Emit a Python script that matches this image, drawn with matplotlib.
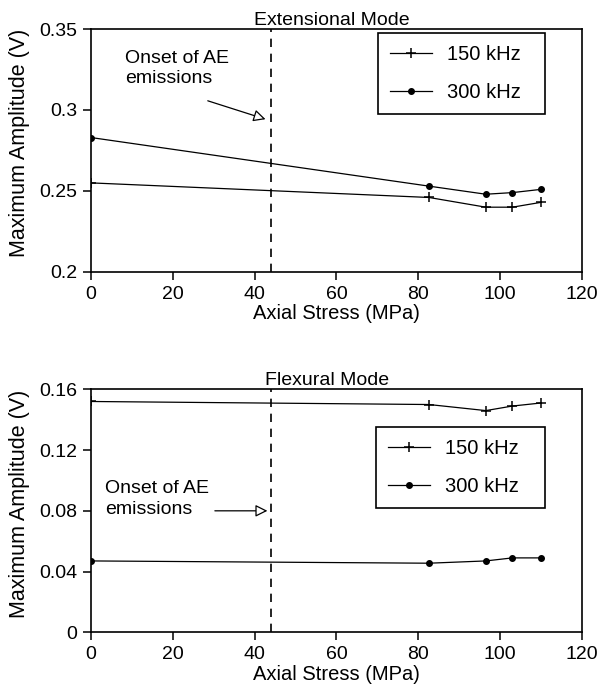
import matplotlib
matplotlib.use("Agg")
import matplotlib.pyplot as plt
from matplotlib.ticker import FuncFormatter

# stress levels (MPa)
stress = [0, 82.6, 96.5, 103, 110]

# extensional mode amplitudes (V)
ext_150 = [0.255, 0.246, 0.240, 0.240, 0.243]
ext_300 = [0.283, 0.253, 0.248, 0.249, 0.251]

# flexural mode amplitudes (V)
flex_150 = [0.152, 0.150, 0.146, 0.149, 0.151]
flex_300 = [0.047, 0.0455, 0.047, 0.049, 0.049]

onset_stress = 44
x_ticks = [0, 20, 40, 60, 80, 100, 120]
ext_yticks = [0.2, 0.25, 0.3, 0.35]
flex_yticks = [0, 0.04, 0.08, 0.12, 0.16]

plt.rcParams["font.family"] = ["Liberation Sans", "DejaVu Sans"]

fig = plt.figure(figsize=(5.97, 6.94), dpi=100)
ax_top = fig.add_axes([0.1524, 0.6081, 0.8224, 0.3501])
ax_bot = fig.add_axes([0.1524, 0.0889, 0.8224, 0.3501])


def style_axes(ax, yticks, title, title_x):
    ax.set_xlim(0, 120)
    ax.set_ylim(yticks[0], yticks[-1])
    ax.set_xticks(x_ticks)
    ax.set_yticks(yticks)
    ax.yaxis.set_major_formatter(FuncFormatter(lambda v, p: f"{v:g}"))
    ax.tick_params(direction="out", length=6, width=1.1, pad=4, labelsize=14,
                   colors="black")
    for spine in ax.spines.values():
        spine.set_linewidth(1.2)
    ax.set_xlabel("Axial Stress (MPa)", fontsize=14.5, labelpad=1)
    ax.set_ylabel("Maximum Amplitude (V)", fontsize=15.5)
    ax.yaxis.set_label_coords(-0.124, 0.53)
    ax.set_title(title, fontsize=14, pad=1, x=title_x)
    ax.axvline(onset_stress, color="black", linestyle=(0, (5, 4)), linewidth=1.2)


def draw_series(ax, y150, y300, legend_box):
    ax.plot(stress, y150, color="black", linewidth=0.9, marker="+", markersize=7,
            markeredgewidth=1.1, label="150 kHz")
    ax.plot(stress, y300, color="black", linewidth=0.9, marker="o", markersize=4,
            label="300 kHz")
    leg = ax.legend(loc="upper left", bbox_to_anchor=legend_box, mode="expand",
                    fontsize=14.5, frameon=True, fancybox=False, edgecolor="black",
                    framealpha=1, handlelength=2.1, handletextpad=0.75,
                    borderpad=0.6, labelspacing=0.95, borderaxespad=0)
    leg.get_frame().set_linewidth(1.2)


style_axes(ax_top, ext_yticks, "Extensional Mode", 0.49)
draw_series(ax_top, ext_150, ext_300, (0.5845, 0.5, 0.340, 0.4835))
ax_top.text(8.3, 0.3373, "Onset of AE\nemissions", fontsize=14, va="top", ha="left",
            linespacing=1.25)
ax_top.annotate("", xy=(43.3, 0.2938), xytext=(27.9, 0.3062),
                arrowprops=dict(arrowstyle="-|>", fc="white", ec="black", lw=0.9,
                                mutation_scale=18))

style_axes(ax_bot, flex_yticks, "Flexural Mode", 0.48)
draw_series(ax_bot, flex_150, flex_300, (0.580, 0.4, 0.344, 0.445))
ax_bot.text(3.4, 0.1005, "Onset of AE\nemissions", fontsize=14, va="top", ha="left",
            linespacing=1.3)
ax_bot.annotate("", xy=(43.8, 0.08), xytext=(29.6, 0.08),
                arrowprops=dict(arrowstyle="-|>", fc="white", ec="black", lw=0.9,
                                mutation_scale=18))

fig.savefig("out.png", dpi=100)
